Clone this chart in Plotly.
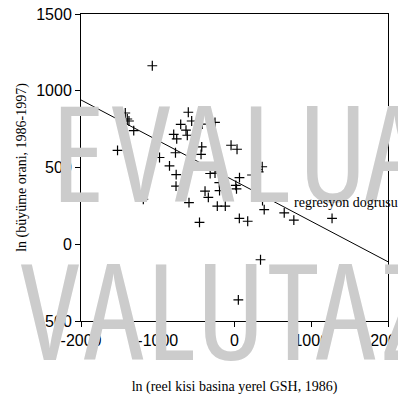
import plotly.graph_objects as go

# data
gsh_1986 = [-1071, -1423, -1397, -1375, -1313, -602, -558, -701, -632, -792, -615, -753,
            -1524, -977, -847, -760, -769, -593, -456, -427, -436, -45, 33, -317, 300, 361,
            315, 280, 65, 17, 26, -384, -341, -195, -224, -120, 365, 387, 648, 773, 1271,
            63, 172, 339, 50, -1188, -762, -419, -254, -254, -198, 228]
growth = [1163, 855, 816, 803, 740, 860, 803, 781, 744, 716, 710, 686,
          612, 565, 510, 454, 596, 271, 142, 635, 585, 645, 619, 461, 487, 505,
          471, 419, 434, 383, 361, 346, 306, 349, 248, 248, 285, 226, 205, 157, 169,
          168, 150, -101, -363, 293, 379, 783, 794, 464, 401, 451]
reg_x = [-2000, 2000]
reg_y = [940, -114]

x_ticks = [-2000, -1000, 0, 1000, 2000]
y_ticks = [-500, 0, 500, 1000, 1500]

# page body has an 8px margin
OFF = 8
W, H = 406 - OFF, 401 - OFF
L, T = 81 - OFF, 14 - OFF
PW = PH = 307
R, B = W - L - PW, H - T - PH

fig = go.Figure()
fig.add_trace(go.Scatter(x=reg_x, y=reg_y, mode="lines",
                         line=dict(color="black", width=1), showlegend=False, hoverinfo="skip"))
fig.add_trace(go.Scatter(x=gsh_1986, y=growth, mode="markers",
                         marker=dict(symbol="cross-thin", size=7, line=dict(color="black", width=1.2)),
                         showlegend=False))

# watermark (positions in reference pixels)
def px(xp):
    return (xp - 81) / PW
def py(yp):
    return 1 - (yp - 14) / PH
wm_font = dict(family="Open Sans", size=134, color="#cccccc", weight=500)
line1 = [("E", 78), ("V", 141), ("A", 205), ("L", 265), ("U", 332), ("A", 395)]
line2 = [("V", 50), ("A", 114), ("L", 170), ("U", 230), ("T", 293), ("A", 346), ("Z", 405)]
for ch, cx in line1:
    fig.add_annotation(x=px(cx), y=py(150), xref="paper", yref="paper",
                       text='<span style="font-stretch:condensed">%s</span>' % ch, showarrow=False,
                       xanchor="center", yanchor="middle", font=wm_font)
for ch, cx in line2:
    fig.add_annotation(x=px(cx), y=py(308), xref="paper", yref="paper",
                       text='<span style="font-stretch:condensed">%s</span>' % ch, showarrow=False,
                       xanchor="center", yanchor="middle", font=wm_font)

fig.add_annotation(x=749, y=271, text="regresyon dogrusu", showarrow=False, xanchor="left",
                   yanchor="middle",
                   font=dict(family="Liberation Serif, Times New Roman, serif", size=14, color="black"))

axis_common = dict(showgrid=False, zeroline=False, showline=True, linecolor="black", linewidth=1,
                   mirror=True, ticks="outside", ticklen=5, tickcolor="black", tickwidth=1,
                   ticklabeloverflow="allow",
                   tickfont=dict(family="Liberation Sans, Arial, sans-serif", size=16, color="black"))

fig.update_xaxes(range=[-2000, 2000], tickvals=x_ticks, ticktext=[str(v) for v in x_ticks],
                 title=dict(text="ln (reel kisi basina yerel GSH, 1986)", standoff=32,
                            font=dict(family="Liberation Serif, Times New Roman, serif", size=14, color="black")),
                 **axis_common)
fig.update_yaxes(range=[-500, 1500], tickvals=y_ticks, ticktext=[str(v) for v in y_ticks],
                 title=dict(text="ln (büyüme orani, 1986-1997)", standoff=6,
                            font=dict(family="Liberation Serif, Times New Roman, serif", size=14, color="black")),
                 **axis_common)

fig.update_layout(width=W, height=H, margin=dict(l=L, r=R, t=T, b=B, autoexpand=False),
                  plot_bgcolor="white", paper_bgcolor="white")

fig.write_html("out.html")
